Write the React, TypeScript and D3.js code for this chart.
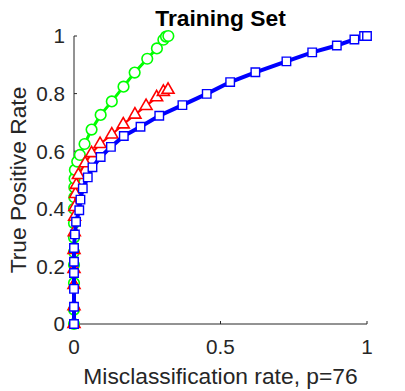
import React from "react";
import * as d3 from "d3";

const blueX = [0, 0, 0, 0, 0, 0, 0.003, 0.007, 0.018, 0.022, 0.03, 0.047, 0.063, 0.091, 0.126, 0.17, 0.227, 0.291, 0.37, 0.453, 0.533, 0.619, 0.725, 0.813, 0.897, 0.957, 0.99, 1.0];
const blueY = [0, 0.06, 0.122, 0.177, 0.216, 0.264, 0.311, 0.355, 0.395, 0.432, 0.471, 0.509, 0.544, 0.58, 0.615, 0.653, 0.685, 0.723, 0.76, 0.799, 0.84, 0.874, 0.912, 0.943, 0.967, 0.988, 1.0, 1.0];

const redX = [0, 0, 0, 0, 0, 0.001, 0.002, 0.003, 0.005, 0.008, 0.015, 0.038, 0.06, 0.089, 0.129, 0.168, 0.208, 0.246, 0.282, 0.305, 0.321];
const redY = [0, 0.062, 0.135, 0.191, 0.257, 0.319, 0.372, 0.406, 0.451, 0.483, 0.517, 0.558, 0.593, 0.625, 0.658, 0.693, 0.727, 0.757, 0.787, 0.806, 0.813];

const greenX = [0, 0, 0, 0, 0, 0, 0, 0, 0.001, 0.001, 0.002, 0.003, 0.011, 0.02, 0.036, 0.06, 0.091, 0.129, 0.169, 0.207, 0.25, 0.283, 0.305, 0.314, 0.322];
const greenY = [0, 0.05, 0.142, 0.205, 0.25, 0.3, 0.35, 0.4, 0.44, 0.475, 0.505, 0.535, 0.564, 0.587, 0.625, 0.675, 0.726, 0.773, 0.824, 0.873, 0.921, 0.957, 0.987, 0.998, 1.0];

const xTicks = [0, 0.5, 1];
const yTicks = [0, 0.2, 0.4, 0.6, 0.8, 1];

const W = 405;
const H = 391;
const font = "'Liberation Sans', Arial, Helvetica, sans-serif";
const axisColor = "#262626";

export default function App() {
  const x = d3.scaleLinear().domain([0, 1]).range([74, 367]);
  const y = d3.scaleLinear().domain([0, 1]).range([324, 36]);

  const toPts = (xs: number[], ys: number[]) => xs.map((v, i) => [v, ys[i]] as [number, number]);
  const line = d3.line<[number, number]>().x((d) => x(d[0])).y((d) => y(d[1]));

  const green = toPts(greenX, greenY);
  const red = toPts(redX, redY);
  const blue = toPts(blueX, blueY);

  const tri = d3.symbol(d3.symbolTriangle, 62)();
  const sq = d3.symbol(d3.symbolSquare, 72)();

  return (
    <svg width={W} height={H} style={{ position: "absolute", left: 0, top: 0, background: "#fff" }} fontFamily={font}>
      {/* axes */}
      <line x1={x(0)} x2={x(1)} y1={y(0)} y2={y(0)} stroke={axisColor} strokeWidth={1} />
      <line x1={x(0)} x2={x(0)} y1={y(0)} y2={y(1)} stroke={axisColor} strokeWidth={1} />
      {xTicks.map((t) => (
        <g key={"x" + t}>
          <line x1={x(t)} x2={x(t)} y1={y(0)} y2={y(0) - 3} stroke={axisColor} />
          <text x={x(t)} y={354} textAnchor="middle" fontSize={20.7} fill={axisColor}>{t}</text>
        </g>
      ))}
      {yTicks.map((t) => (
        <g key={"y" + t}>
          <line x1={x(0)} x2={x(0) + 3} y1={y(t)} y2={y(t)} stroke={axisColor} />
          <text x={65} y={y(t) + 7.4} textAnchor="end" fontSize={20.7} fill={axisColor}>{t}</text>
        </g>
      ))}

      {/* series */}
      <path d={line(green) || ""} fill="none" stroke="#00ff00" strokeWidth={3} />
      {green.map((d, i) => (
        <circle key={"g" + i} cx={x(d[0])} cy={y(d[1])} r={5.3} fill="#fff" stroke="#00ff00" strokeWidth={1.6} />
      ))}
      <path d={line(red) || ""} fill="none" stroke="#ff0000" strokeWidth={2.2} />
      {red.map((d, i) => (
        <path key={"r" + i} d={tri || ""} transform={`translate(${x(d[0])},${y(d[1])})`} fill="#fff" stroke="#ff0000" strokeWidth={1.6} />
      ))}
      <path d={line(blue) || ""} fill="none" stroke="#0000ff" strokeWidth={4} />
      {blue.map((d, i) => (
        <path key={"b" + i} d={sq || ""} transform={`translate(${x(d[0])},${y(d[1])})`} fill="#fff" stroke="#0000ff" strokeWidth={1.4} />
      ))}

      {/* labels */}
      <text x={220.5} y={26} textAnchor="middle" fontSize={22.8} fontWeight="bold" fill="#000">Training Set</text>
      <text x={220.5} y={384} textAnchor="middle" fontSize={22.8} fill={axisColor}>Misclassification rate, p=76</text>
      <text transform="translate(26,180) rotate(-90)" textAnchor="middle" fontSize={22.8} fill={axisColor}>True Positive Rate</text>
    </svg>
  );
}
